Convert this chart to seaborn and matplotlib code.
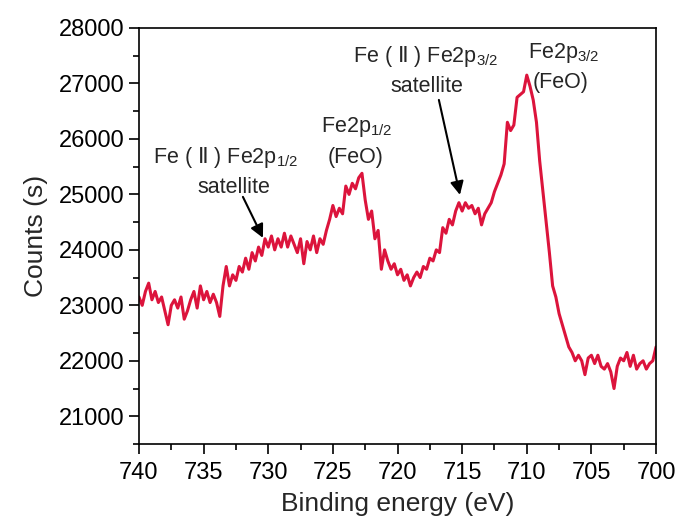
import numpy as np
import pandas as pd
import matplotlib
matplotlib.use("Agg")
import matplotlib.pyplot as plt
import seaborn as sns

# Binding energy grid (eV), 0.25 eV steps from 740 down to 700
energy_start = 740.0
energy_step = -0.25
counts = [
    23150, 23000, 23250, 23400,
    23100, 23250, 23050, 23150,
    22900, 22650, 23000, 23100,
    22950, 23150, 22750, 22900,
    23100, 23250, 22950, 23350,
    23100, 23250, 23050, 23200,
    23050, 22800, 23350, 23700,
    23350, 23550, 23450, 23700,
    23600, 23850, 23650, 23950,
    23800, 24050, 23900, 24200,
    24050, 24250, 24000, 24200,
    24050, 24300, 24050, 24250,
    24100, 23950, 24200, 23750,
    24150, 24000, 24250, 23950,
    24200, 24100, 24350, 24550,
    24800, 24600, 24750, 24650,
    25150, 25000, 25200, 25100,
    25300, 25380, 24900, 24550,
    24700, 24200, 24350, 23650,
    24000, 23800, 23650, 23750,
    23550, 23650, 23450, 23550,
    23350, 23500, 23600, 23500,
    23700, 23650, 23850, 23800,
    24000, 23950, 24400, 24300,
    24550, 24450, 24700, 24850,
    24700, 24850, 24750, 24800,
    24650, 24750, 24450, 24650,
    24750, 24850, 25050, 25200,
    25350, 25550, 26300, 26150,
    26250, 26750, 26800, 26850,
    27150, 26950, 26700, 26300,
    25600, 25050, 24500, 23950,
    23350, 23150, 22850, 22650,
    22450, 22250, 22150, 22000,
    22100, 22000, 21750, 22050,
    22100, 21950, 22100, 21900,
    21850, 21950, 21800, 21500,
    21900, 22050, 22000, 22150,
    21900, 22100, 21850, 21950,
    22000, 21850, 21950, 22000,
    22250,
]
energy = [energy_start + energy_step * i for i in range(len(counts))]

x_ticks = [740, 735, 730, 725, 720, 715, 710, 705, 700]
y_ticks = [21000, 22000, 23000, 24000, 25000, 26000, 27000, 28000]

sns.set_style("ticks")
plt.rcParams["font.family"] = ["Liberation Sans", "DejaVu Sans"]
plt.rcParams["mathtext.fontset"] = "custom"
plt.rcParams["mathtext.rm"] = "Liberation Sans"
plt.rcParams["mathtext.tt"] = "Noto Sans CJK SC"
plt.rcParams["mathtext.default"] = "regular"

fig = plt.figure(figsize=(6.78, 5.21), dpi=100)
ax = fig.add_axes([0.205, 0.1478, 0.7626, 0.7985])

df = pd.DataFrame({"energy": energy, "counts": counts})
sns.lineplot(data=df, x="energy", y="counts", ax=ax, color="#DC143C",
             linewidth=2.2, sort=False)

ax.set_xlim(740, 700)
ax.set_ylim(20500, 28000)
ax.set_xticks(x_ticks)
ax.set_yticks(y_ticks)
ax.set_xticks(np.arange(737.5, 700, -5), minor=True)
ax.set_yticks(np.arange(20500, 28001, 1000), minor=True)
ax.tick_params(axis="both", which="major", direction="out", length=7, width=1.2,
               labelsize=17, color="black", labelcolor="black")
ax.tick_params(axis="both", which="minor", direction="out", length=4, width=1.2,
               color="black")
ax.tick_params(axis="x", pad=6)
for s in ax.spines.values():
    s.set_linewidth(1.2)
    s.set_color("black")
    s.set_visible(True)

ax.set_xlabel("Binding energy (eV)", fontsize=19, labelpad=6)
ax.set_ylabel("Counts (s)", fontsize=19, labelpad=8)

fs = 15.5
ax.text(733.27, 25569, r"Fe ( $\mathtt{Ⅱ}$ ) Fe2p$_{1/2}$", ha="center", va="baseline", fontsize=fs)
ax.text(732.69, 25028, "satellite", ha="center", va="baseline", fontsize=fs)
ax.text(723.13, 26132, r"Fe2p$_{1/2}$", ha="center", va="baseline", fontsize=fs)
ax.text(723.25, 25569, "(FeO)", ha="center", va="baseline", fontsize=fs)
ax.text(717.83, 27388, r"Fe ( $\mathtt{Ⅱ}$ ) Fe2p$_{3/2}$", ha="center", va="baseline", fontsize=fs)
ax.text(717.72, 26853, "satellite", ha="center", va="baseline", fontsize=fs)
ax.text(707.12, 27460, r"Fe2p$_{3/2}$", ha="center", va="baseline", fontsize=fs)
ax.text(707.35, 26919, "(FeO)", ha="center", va="baseline", fontsize=fs)

arrow_kw = dict(arrowstyle="-|>", color="black", lw=1.5, mutation_scale=20,
                shrinkA=0, shrinkB=0)
ax.annotate("", xy=(730.41, 24216), xytext=(731.96, 24955), arrowprops=arrow_kw)
ax.annotate("", xy=(715.17, 24991), xytext=(716.8, 26703), arrowprops=arrow_kw)

fig.savefig("out.png", dpi=100)
